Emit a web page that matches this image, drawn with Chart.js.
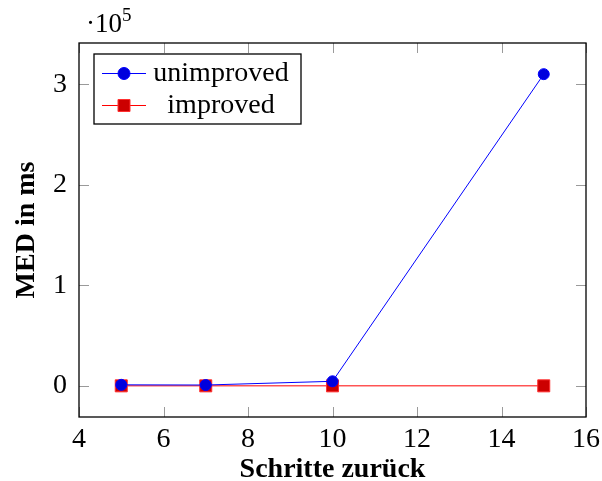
<!DOCTYPE html>
<html>
<head>
<meta charset="utf-8">
<script src="https://cdn.jsdelivr.net/npm/chart.js@4"></script>
<style>
  html, body { margin: 0; padding: 0; background: #fff; }
  #wrap { width: 602px; height: 481px; position: relative; }
</style>
</head>
<body>
<div id="wrap"><canvas id="chart" width="602" height="481"></canvas></div>
<script>
const steps = [5, 7, 10, 15];
const unimproved = [1000, 800, 4500, 310000];
const improved = [0, 0, 0, 0];
const xTicks = [4, 6, 8, 10, 12, 14, 16];
const yTicks = [0, 100000, 200000, 300000];

const FONT = "'Liberation Serif', 'Times New Roman', serif";
const SIZE = 28;

const toPoints = (ys) => steps.map((x, i) => ({ x, y: ys[i] }));

// box, inner tick marks, legend and the exponent label
const frame = {
  id: "frame",
  afterDatasetsDraw(chart) {
    const { ctx, chartArea: a, scales } = chart;
    ctx.save();
    ctx.strokeStyle = "#9a9a9a";
    ctx.lineWidth = 1;
    const len = 10;
    ctx.beginPath();
    scales.x.ticks.forEach((t) => {
      const px = Math.round(scales.x.getPixelForValue(t.value)) + 0.5;
      ctx.moveTo(px, a.bottom); ctx.lineTo(px, a.bottom - len);
      ctx.moveTo(px, a.top); ctx.lineTo(px, a.top + len);
    });
    scales.y.ticks.forEach((t) => {
      const py = Math.round(scales.y.getPixelForValue(t.value)) + 0.5;
      ctx.moveTo(a.left, py); ctx.lineTo(a.left + len, py);
      ctx.moveTo(a.right, py); ctx.lineTo(a.right - len, py);
    });
    ctx.stroke();

    ctx.strokeStyle = "#000";
    ctx.lineWidth = 1.3;
    ctx.strokeRect(a.left, a.top, a.right - a.left, a.bottom - a.top);

    // exponent
    ctx.fillStyle = "#000";
    ctx.textBaseline = "alphabetic";
    ctx.textAlign = "left";
    ctx.font = `27px ${FONT}`;
    ctx.fillText("·10", 86, 32);
    const w = ctx.measureText("·10").width;
    ctx.font = `19px ${FONT}`;
    ctx.fillText("5", 86 + w, 21);

    // legend
    const lx = 94, ly = 54, lw = 207, lh = 70;
    ctx.fillStyle = "#fff";
    ctx.fillRect(lx, ly, lw, lh);
    ctx.strokeStyle = "#000";
    ctx.lineWidth = 1.3;
    ctx.strokeRect(lx, ly, lw, lh);
    const rows = [73, 105];
    chart.data.datasets.forEach((ds, i) => {
      const y = rows[i];
      ctx.strokeStyle = ds.borderColor;
      ctx.lineWidth = 1;
      ctx.beginPath();
      ctx.moveTo(102, y + 0.5); ctx.lineTo(146, y + 0.5);
      ctx.stroke();
      ctx.fillStyle = ds.pointBackgroundColor;
      ctx.strokeStyle = ds.pointBorderColor;
      ctx.beginPath();
      if (ds.pointStyle === "rect") {
        ctx.rect(124 - 6, y - 5.5, 12, 12);
      } else {
        ctx.arc(124, y + 0.5, 6, 0, Math.PI * 2);
      }
      ctx.fill();
      ctx.stroke();
      ctx.fillStyle = "#000";
      ctx.font = `${SIZE}px ${FONT}`;
      ctx.textAlign = "center";
      ctx.textBaseline = "middle";
      ctx.fillText(ds.label, 221, y + 1);
    });
    ctx.restore();
  },
};

new Chart(document.getElementById("chart"), {
  type: "line",
  data: {
    datasets: [
      {
        label: "unimproved",
        data: toPoints(unimproved),
        borderColor: "#0000ff",
        borderWidth: 1,
        pointStyle: "circle",
        pointRadius: 5.5,
        pointBackgroundColor: "#0000dd",
        pointBorderColor: "#0000ff",
        pointBorderWidth: 1,
      },
      {
        label: "improved",
        data: toPoints(improved),
        borderColor: "#ff0000",
        borderWidth: 1,
        pointStyle: "rect",
        pointRadius: 8.5,
        pointBackgroundColor: "#cc0000",
        pointBorderColor: "#ff3030",
        pointBorderWidth: 1,
      },
    ],
  },
  options: {
    responsive: false,
    animation: false,
    layout: { padding: { top: 43, right: 16, left: 0, bottom: 0 } },
    plugins: { legend: { display: false }, tooltip: { enabled: false } },
    scales: {
      x: {
        type: "linear",
        min: 4,
        max: 16,
        afterFit: (s) => { s.height = 64; s.paddingLeft = 0; s.paddingRight = 0; },
        afterBuildTicks: (s) => { s.ticks = xTicks.map((v) => ({ value: v })); },
        border: { display: false },
        grid: { display: false, drawTicks: false },
        ticks: { color: "#000", font: { family: FONT, size: SIZE }, padding: 6, maxRotation: 0 },
        title: {
          display: true,
          text: "Schritte zurück",
          color: "#000",
          font: { family: FONT, size: SIZE, weight: "bold", lineHeight: 0.8 },
          padding: 0,
        },
      },
      y: {
        type: "linear",
        min: -31000,
        max: 341000,
        afterFit: (s) => { s.width = 79; s.paddingTop = 0; s.paddingBottom = 0; },
        afterBuildTicks: (s) => { s.ticks = yTicks.map((v) => ({ value: v })); },
        border: { display: false },
        grid: { display: false, drawTicks: false },
        ticks: {
          color: "#000",
          font: { family: FONT, size: SIZE },
          padding: 12,
          callback: (v) => String(v / 100000),
        },
        title: {
          display: true,
          text: "MED in ms",
          color: "#000",
          font: { family: FONT, size: SIZE, weight: "bold", lineHeight: 1 },
          padding: { top: 13, bottom: 0 },
        },
      },
    },
  },
  plugins: [frame],
});
</script>
</body>
</html>
